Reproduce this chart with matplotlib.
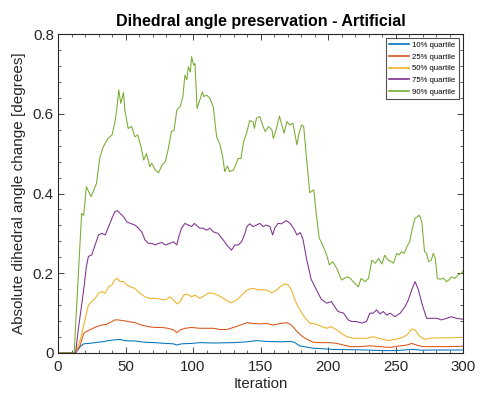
import matplotlib
matplotlib.use("Agg")
import matplotlib.pyplot as plt
from matplotlib.ticker import MultipleLocator

plt.rcParams['font.family'] = ['Liberation Sans', 'DejaVu Sans']

# Percentile curves of dihedral-angle change per iteration
it_p10 = [0, 13, 16.5, 19, 22.5, 27.5, 32.5, 37.5, 42, 46, 49.5, 57, 64.5, 72, 79.5, 85.5,
          88, 91.5, 99, 105, 115, 130, 140, 147, 155, 165, 172, 175, 179, 189, 204, 228.5,
          241, 250, 263, 270, 278, 300]
p10 = [0, 0, 0.016, 0.023, 0.024, 0.026, 0.028, 0.031, 0.033, 0.034, 0.031, 0.030, 0.027,
       0.026, 0.024, 0.023, 0.020, 0.023, 0.024, 0.026, 0.025, 0.026, 0.028, 0.031, 0.029,
       0.028, 0.029, 0.027, 0.018, 0.012, 0.009, 0.0075, 0.006, 0.006, 0.009, 0.007, 0.0075,
       0.0075]

it_p25 = [0, 13, 16.5, 19, 21, 23.5, 26, 28.5, 32.5, 36, 40, 42, 44.5, 48.5, 52, 57, 62, 67,
          72, 77, 81.5, 85.5, 88, 90.5, 94, 99, 105, 110, 115, 120, 125, 130, 135, 140, 144.5,
          149.5, 154.5, 159.5, 164.5, 169.5, 173, 177, 180.5, 184, 189, 194, 201.5, 206.5,
          211.5, 216.5, 223.5, 231, 238.5, 246, 253.5, 258.5, 262, 265.5, 270.5, 278, 288, 300]
p25 = [0, 0, 0.020, 0.049, 0.054, 0.058, 0.062, 0.066, 0.070, 0.072, 0.079, 0.083, 0.083,
       0.081, 0.079, 0.076, 0.070, 0.066, 0.064, 0.064, 0.062, 0.058, 0.051, 0.058, 0.062,
       0.064, 0.062, 0.062, 0.062, 0.059, 0.059, 0.064, 0.070, 0.076, 0.074, 0.073, 0.074,
       0.070, 0.074, 0.076, 0.070, 0.054, 0.043, 0.035, 0.027, 0.026, 0.026, 0.024, 0.020,
       0.016, 0.016, 0.018, 0.016, 0.014, 0.018, 0.020, 0.024, 0.020, 0.016, 0.016, 0.016,
       0.017]

it_p50 = [0, 13, 16.5, 20, 22.5, 25, 27.5, 30, 32.5, 35, 37.5, 40, 42, 44, 46, 48.5, 51, 53.5,
          57, 60.5, 64.5, 68, 72, 75.5, 79.5, 83, 85.5, 88, 90.5, 93, 95.5, 99, 101.5, 105,
          109, 111.5, 115, 118.5, 122.5, 126, 128.5, 132.5, 136, 140, 143.5, 147, 151, 154.5,
          158.5, 162, 164.5, 168, 170.5, 173, 175.5, 178, 181, 183, 186.5, 191.5, 195.5, 199,
          202.5, 206.5, 210, 214, 219, 223.5, 228.5, 233.5, 237.5, 241, 244.5, 249.5, 254.5,
          258.5, 262, 264.5, 268, 272, 275.5, 280.5, 285.5, 290.5, 295.5, 300]
p50 = [0, 0, 0.033, 0.083, 0.120, 0.129, 0.137, 0.150, 0.154, 0.150, 0.166, 0.171, 0.183,
       0.187, 0.179, 0.179, 0.171, 0.166, 0.162, 0.150, 0.141, 0.137, 0.137, 0.135, 0.133,
       0.141, 0.133, 0.123, 0.129, 0.145, 0.148, 0.141, 0.145, 0.137, 0.145, 0.150, 0.150,
       0.145, 0.137, 0.129, 0.126, 0.133, 0.145, 0.158, 0.162, 0.160, 0.158, 0.158, 0.151,
       0.158, 0.166, 0.173, 0.171, 0.158, 0.133, 0.115, 0.098, 0.088, 0.075, 0.072, 0.066,
       0.062, 0.066, 0.058, 0.049, 0.041, 0.037, 0.037, 0.037, 0.041, 0.037, 0.034, 0.031,
       0.034, 0.038, 0.045, 0.060, 0.058, 0.041, 0.034, 0.037, 0.038, 0.038, 0.038, 0.039,
       0.039]

it_p75 = [0, 13, 15, 19, 21, 22.5, 25, 27.5, 30, 32.5, 35, 37.5, 40, 42, 44, 46, 48.5, 51,
          53.5, 57, 59.5, 62, 64.5, 67, 69.5, 72, 74.5, 77, 79.5, 83, 85.5, 88, 89.5, 91.5, 94,
          96.5, 99, 101, 105, 107.5, 110, 112.5, 115, 118.5, 122.5, 125, 128.5, 131, 133.5,
          136, 138.5, 140, 142, 144.5, 147, 149.5, 152, 154.5, 157, 159, 160.5, 163, 165.5,
          169, 172, 174.5, 177, 179.5, 181.5, 184, 187.5, 191.5, 195, 199, 202.5, 205, 207.5,
          211.5, 215, 217.5, 221, 225, 228.5, 231, 233.5, 236, 238.5, 241, 243.5, 246, 249.5,
          253.5, 257, 259.5, 262, 264.5, 267, 269.5, 273, 277, 280.5, 284, 288, 291.5, 295,
          299, 300]
p75 = [0, 0, 0.058, 0.158, 0.216, 0.242, 0.246, 0.271, 0.296, 0.300, 0.296, 0.317, 0.338,
       0.354, 0.357, 0.350, 0.342, 0.329, 0.325, 0.321, 0.313, 0.304, 0.283, 0.275, 0.275,
       0.271, 0.275, 0.277, 0.271, 0.275, 0.279, 0.271, 0.292, 0.313, 0.325, 0.321, 0.317,
       0.325, 0.313, 0.313, 0.308, 0.313, 0.304, 0.300, 0.283, 0.271, 0.258, 0.271, 0.271,
       0.279, 0.300, 0.317, 0.324, 0.317, 0.321, 0.325, 0.317, 0.321, 0.317, 0.296, 0.313,
       0.325, 0.324, 0.332, 0.325, 0.313, 0.296, 0.302, 0.285, 0.238, 0.185, 0.158, 0.135,
       0.125, 0.129, 0.116, 0.104, 0.100, 0.083, 0.079, 0.079, 0.075, 0.079, 0.100, 0.100,
       0.108, 0.098, 0.104, 0.095, 0.100, 0.091, 0.100, 0.116, 0.133, 0.158, 0.179, 0.158,
       0.125, 0.087, 0.087, 0.087, 0.083, 0.087, 0.091, 0.087, 0.085, 0.085]

it_p90 = [0, 12, 14, 17.5, 19, 21, 24.5, 28.5, 31, 33.5, 37, 40, 42, 43.5, 45, 46.5, 48.5,
          49.5, 52, 54.5, 57, 59, 61.5, 63.5, 65.5, 68, 69.5, 72, 74.5, 77, 79.5, 81.5, 84, 86,
          88, 90.5, 92.5, 94, 95.5, 96.5, 98, 99, 100.5, 101.5, 103, 105, 107, 108, 110, 112.5,
          115, 117.5, 120, 122, 123.5, 125.5, 127, 130, 133.5, 135.5, 137.5, 140, 142, 144.5,
          145.5, 147, 149.5, 151.5, 153.5, 156, 158.5, 159.5, 161.5, 164, 165.5, 167.5, 169.5,
          171.5, 174, 177, 178.5, 180.5, 182, 184, 186.5, 189.5, 191.5, 193.5, 195.5, 197, 199,
          201, 203.5, 206.5, 210, 214, 216.5, 219.5, 222.5, 224.5, 227.5, 230, 232.5, 235,
          237.5, 240, 242, 244.5, 247, 248.5, 251, 252.5, 254.5, 256.5, 258.5, 260.5, 262.5,
          264.5, 266.5, 267.5, 269.5, 271.5, 273, 274.5, 276.5, 278, 279.5, 281, 283, 285.5,
          288, 289.5, 291.5, 294, 296.5, 299, 300]
p90 = [0, 0, 0.130, 0.350, 0.345, 0.417, 0.392, 0.425, 0.490, 0.517, 0.538, 0.547, 0.576,
       0.609, 0.660, 0.626, 0.653, 0.609, 0.563, 0.568, 0.542, 0.547, 0.517, 0.484, 0.500,
       0.467, 0.476, 0.459, 0.452, 0.471, 0.480, 0.509, 0.555, 0.559, 0.609, 0.618, 0.643,
       0.697, 0.685, 0.718, 0.705, 0.743, 0.722, 0.726, 0.613, 0.634, 0.655, 0.643, 0.647,
       0.639, 0.618, 0.542, 0.522, 0.492, 0.455, 0.469, 0.455, 0.459, 0.488, 0.488, 0.530,
       0.555, 0.583, 0.580, 0.563, 0.589, 0.593, 0.572, 0.555, 0.568, 0.559, 0.538, 0.559,
       0.594, 0.576, 0.551, 0.580, 0.572, 0.576, 0.522, 0.551, 0.572, 0.568, 0.492, 0.402,
       0.409, 0.342, 0.288, 0.275, 0.263, 0.246, 0.221, 0.229, 0.212, 0.183, 0.191, 0.187,
       0.176, 0.166, 0.187, 0.179, 0.187, 0.233, 0.225, 0.237, 0.223, 0.245, 0.233, 0.229,
       0.225, 0.250, 0.246, 0.254, 0.250, 0.267, 0.279, 0.313, 0.338, 0.342, 0.346, 0.329,
       0.254, 0.250, 0.229, 0.233, 0.250, 0.237, 0.187, 0.185, 0.187, 0.179, 0.183, 0.191,
       0.187, 0.196, 0.200, 0.205]

labels = ['10% quartile', '25% quartile', '50% quartile', '75% quartile', '90% quartile']
colors = ['#0072BD', '#D95319', '#EDB120', '#7E2F8E', '#77AC30']

fig = plt.figure(figsize=(4.8, 3.97), dpi=100)
ax = fig.add_axes([58 / 480, 44 / 397, 405 / 480, 319 / 397])

series = [(it_p10, p10), (it_p25, p25), (it_p50, p50), (it_p75, p75), (it_p90, p90)]
for (x, y), lab, c in zip(series, labels, colors):
    ax.plot(x, y, color=c, lw=0.75, label=lab)

ax.set_xlim(0, 300)
ax.set_ylim(0, 0.8)
ax.xaxis.set_major_locator(MultipleLocator(50))
ax.xaxis.set_minor_locator(MultipleLocator(10))
ax.yaxis.set_minor_locator(MultipleLocator(0.04))
ax.set_yticks([0, 0.2, 0.4, 0.6, 0.8])
ax.set_yticklabels(['0', '0.2', '0.4', '0.6', '0.8'])

edge = '#262626'
for s in ax.spines.values():
    s.set_color(edge)
    s.set_linewidth(0.8)
ax.tick_params(which='both', direction='in', top=True, right=True, colors=edge,
               labelsize=10.8, labelcolor='#262626')
ax.tick_params(axis='x', which='major', pad=5)
ax.tick_params(axis='y', which='major', pad=3)
ax.tick_params(which='major', length=4, width=0.6)
ax.tick_params(which='minor', length=2.2, width=0.5)

ax.set_xlabel('Iteration', fontsize=10.8, color='#262626', labelpad=2)
ax.set_ylabel('Absolute dihedral angle change [degrees]', fontsize=11, color='#262626',
              labelpad=5)
ax.set_title('Dihedral angle preservation - Artificial', fontsize=11.5, fontweight='bold',
             pad=6)

leg = ax.legend(loc='upper right', fontsize=5.6, frameon=True, fancybox=False,
                edgecolor='#262626', handlelength=2.6, handletextpad=0.4,
                borderaxespad=0.5, labelspacing=0.55, borderpad=0.45)
leg.get_frame().set_linewidth(0.8)
for h in leg.get_lines():
    h.set_linewidth(1.2)

fig.savefig('out.png', dpi=100)
